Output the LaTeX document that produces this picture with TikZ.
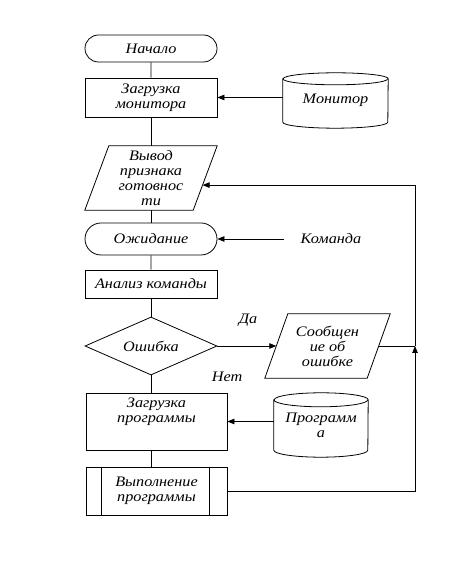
\documentclass[tikz,border=0pt]{standalone}
\usepackage{fontspec}
\setmainfont{Liberation Serif}[FakeStretch=1.12]
\usetikzlibrary{shapes.misc,shapes.geometric,arrows.meta,calc}
\begin{document}
\begin{tikzpicture}[x=1pt,y=1pt,
  every node/.style={font=\fontsize{14.5}{15}\selectfont\itshape, align=center, inner sep=0pt},
  line/.style={draw, line width=0.8pt},
  arr/.style={line, -{Triangle[length=7pt,width=5.5pt]}},
  term/.style={rounded rectangle, draw, line width=0.8pt, minimum width=132pt},
  box/.style={rectangle, draw, line width=0.8pt},
  ghost/.style={rectangle}
]
\useasboundingbox (0,0) rectangle (469,561);
\fill[white] (0,0) rectangle (469,561);

% start
\node[term, minimum height=27pt] (start) at (151,512.5) {Начало};
% load monitor
\node[box, minimum width=132pt, minimum height=39pt] (zm) at (151,463.5) {Загрузка\\монитора};
% monitor cylinder
\node[ghost, minimum width=105pt, minimum height=55pt] (mon) at (335.5,460.5) {Монитор};
\draw[line] ($(mon.north west)+(0,-6)$) -- ($(mon.south west)+(0,6)$)
  arc[start angle=180,end angle=360,x radius=52.5,y radius=6]
  -- ($(mon.north east)+(0,-6)$)
  arc[start angle=0,end angle=180,x radius=52.5,y radius=6] -- cycle;
\draw[line] ($(mon.north west)+(0,-6)$) arc[start angle=180,end angle=360,x radius=52.5,y radius=6];
% output readiness
\node[ghost, minimum width=132pt, minimum height=64pt] (out) at (151,383) {Вывод\\признака\\готовнос\\ти};
\draw[line] ($(out.north west)+(24,0)$) -- (out.north east) -- ($(out.south east)+(-24,0)$) -- (out.south west) -- cycle;
% wait
\node[term, minimum height=32pt] (wait) at (151,322) {Ожидание};
\node[inner xsep=17pt] (cmd) at (331,322) {Команда};
% analysis
\node[box, minimum width=132pt, minimum height=28pt] (an) at (151,277) {Анализ команды};
% decision
\node[diamond, draw, line width=0.8pt, aspect=2.28, minimum width=132pt, minimum height=58pt] (err) at (151,215) {Ошибка};
% message
\node[ghost, minimum width=125pt, minimum height=64pt] (msg) at (327.5,215) {Сообщен\\ие об\\ошибке};
\draw[line] ($(msg.north west)+(23,0)$) -- (msg.north east) -- ($(msg.south east)+(-23,0)$) -- (msg.south west) -- cycle;
\node (yes) at (248,241) {Да};
\node (no) at (227,184) {Нет};
% load program
\node[box, minimum width=141pt, minimum height=57pt] (zp) at (156.5,139.5) {};
\node (zpt) at (156.5,149) {Загрузка\\программы};
% program cylinder
\node[ghost, minimum width=94pt, minimum height=64pt] (prg) at (321,136) {Программ\\а};
\draw[line] ($(prg.north west)+(0,-7)$) -- ($(prg.south west)+(0,7)$)
  arc[start angle=180,end angle=360,x radius=47,y radius=7]
  -- ($(prg.north east)+(0,-7)$)
  arc[start angle=0,end angle=180,x radius=47,y radius=7] -- cycle;
\draw[line] ($(prg.north west)+(0,-7)$) arc[start angle=180,end angle=360,x radius=47,y radius=7];
% run program
\node[box, minimum width=141pt, minimum height=48pt] (run) at (156.5,70) {Выполнение\\программы};
\draw[line] ($(run.north west)+(16,0)$) -- ($(run.south west)+(16,0)$);
\draw[line] ($(run.north east)+(-18,0)$) -- ($(run.south east)+(-18,0)$);

% connectors
\draw[line] (start) -- (zm);
\draw[line] (zm) -- (out);
\draw[line] (out) -- (wait);
\draw[line] (wait) -- (an);
\draw[line] (an) -- (err);
\draw[line] (err.south) -- (err.south |- zp.north);
\draw[line] (err.south |- zp.south) -- (err.south |- run.north);
\draw[arr] (mon.west |- zm.east) -- (zm.east);
\draw[arr] (cmd.west) -- (wait.east);
\draw[arr] (err.east) -- ($(msg.west)+(11.5,0)$);
\draw[arr] (prg.west |- zp.east) -- (zp.east);
\coordinate (j) at (415,215);
\coordinate (tgt) at ($($(out.south east)+(-24,0)$)!0.39!(out.north east)$);
\draw[arr] (run.east) -| (j);
\draw[line] ($(msg.east)+(-11.5,0)$) -- (j);
\draw[arr] (j) |- (tgt);
\end{tikzpicture}
\end{document}
